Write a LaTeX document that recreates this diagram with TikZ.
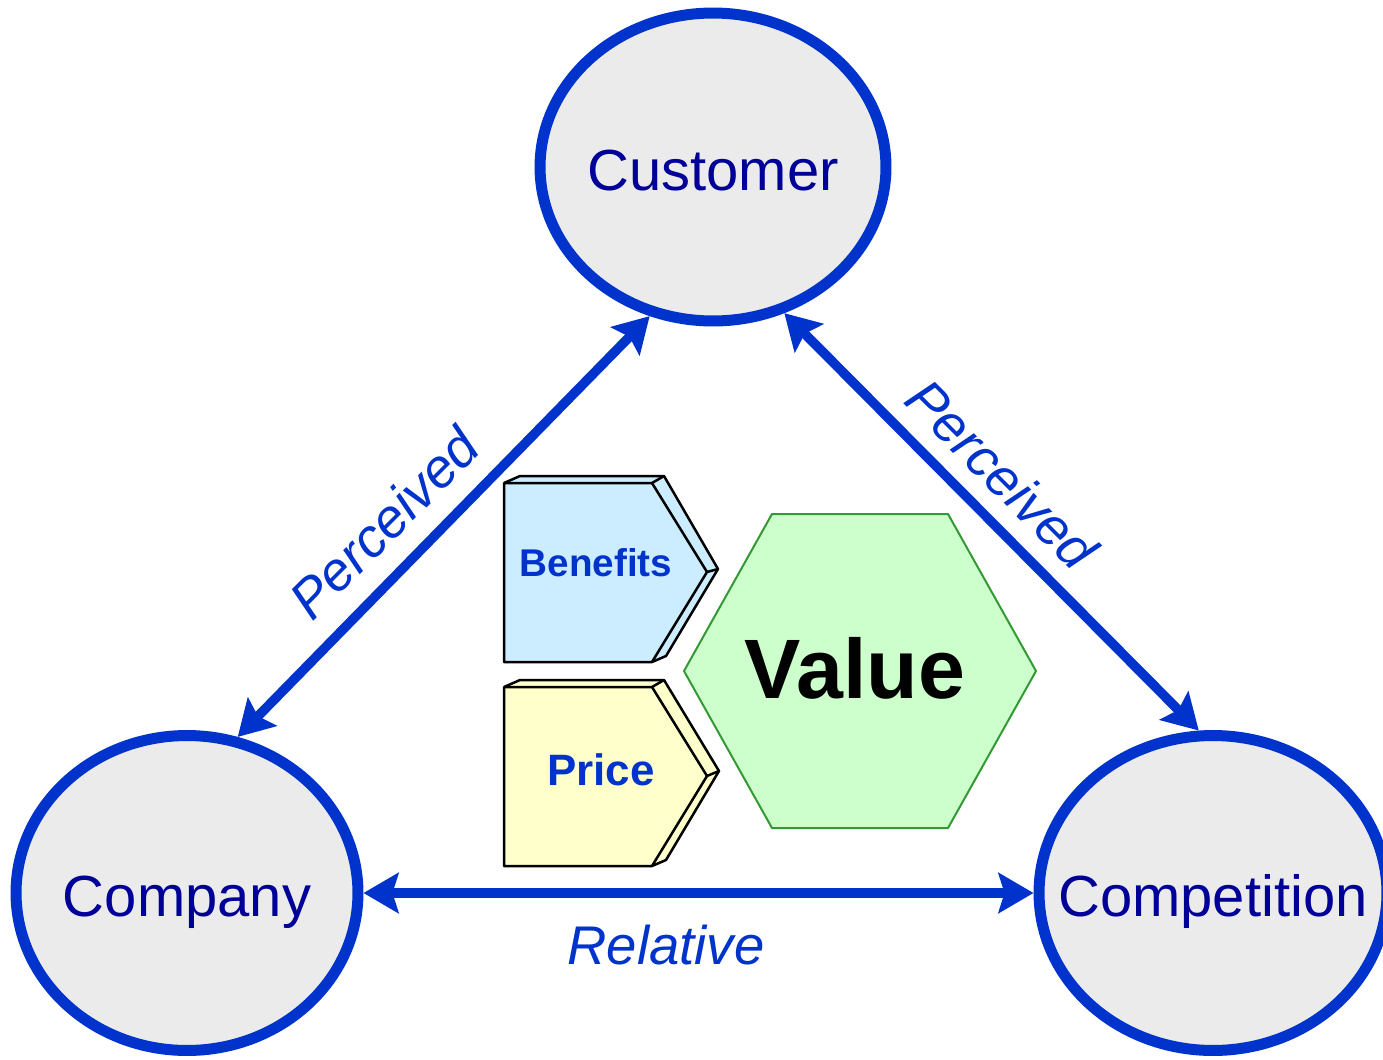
\documentclass[tikz,border=0pt]{standalone}
\usepackage{fontspec}
\setmainfont{Liberation Sans}
\usetikzlibrary{arrows.meta,shapes.geometric}
\definecolor{cblue}{HTML}{0033CC}
\definecolor{navy}{HTML}{000099}
\definecolor{cgray}{HTML}{EBEBEB}
\definecolor{bfill}{HTML}{CCECFF}
\definecolor{pfill}{HTML}{FFFFCC}
\definecolor{vfill}{HTML}{CCFFCC}
\definecolor{vline}{HTML}{339933}
\newcommand{\partytext}[1]{\raisebox{-0.47cm}[0pt][0pt]{\makebox[0pt]{#1}}}
\tikzset{
  party/.style={ellipse, draw=cblue, fill=cgray, line width=0.22cm, inner sep=0pt,
    text=navy, font=\fontsize{33}{36}\selectfont},
  link/.style={draw=cblue, line width=0.19cm,
    {Stealth[length=0.7cm, width=0.8cm, inset=0.12cm]}-{Stealth[length=0.7cm, width=0.8cm, inset=0.12cm]}},
  lbl/.style={text=cblue, font=\fontsize{31}{34}\selectfont\itshape, inner sep=0pt},
  facefill/.style={draw=black, line width=0.05cm, line join=round},
  boxtext/.style={text=cblue, font=\bfseries, inner sep=0pt},
}
\begin{document}
\begin{tikzpicture}[x=0.02cm, y=-0.02cm]
\useasboundingbox (0,0) rectangle (1383,1059);
% parties
\node[party, minimum width=6.92cm, minimum height=6.16cm] (cust) at (713,167) {\partytext{Customer}};
\node[party, minimum width=6.84cm, minimum height=6.3cm] (comp) at (187,893) {\partytext{Company}};
\node[party, minimum width=6.96cm, minimum height=6.3cm] (compet) at (1213,893) {\partytext{Competition}};
% connectors
\draw[link] (comp.72) -- (cust.247);
\draw[link] (cust.296) -- (compet.95);
\draw[link] (comp.east) -- (compet.west);
% labels
\node[lbl, rotate=45] (pl) at (384,523) {Perceived};
\node[lbl, rotate=-45] (pr) at (1002,474) {Perceived};
\node[lbl] (rel) at (666,945) {Relative};
% Benefits box
\fill[bfill] (504,483) -- (520,476) -- (664,476) -- (718,569) -- (666,656) -- (652,662) -- (504,662) -- cycle;
\draw[facefill] (504,483) -- (520,476) -- (664,476) -- (718,569) -- (666,656) -- (652,662);
\draw[facefill] (504,483) -- (652,483) -- (707,572) -- (652,662) -- (504,662) -- cycle;
\draw[facefill] (652,483) -- (664,476) (707,572) -- (718,569);
\node[boxtext, font=\fontsize{22}{24}\selectfont\bfseries] (ben) at (596,563) {Benefits};
% Price box
\fill[pfill] (504,687) -- (520,680) -- (664,680) -- (719,771) -- (666,860) -- (652,866) -- (504,866) -- cycle;
\draw[facefill] (504,687) -- (520,680) -- (664,680) -- (719,771) -- (666,860) -- (652,866);
\draw[facefill] (504,687) -- (652,687) -- (707,776) -- (652,866) -- (504,866) -- cycle;
\draw[facefill] (652,687) -- (664,680) (707,776) -- (719,771);
\node[boxtext, font=\fontsize{25}{28}\selectfont\bfseries] (pri) at (601,770) {Price};
% Value hexagon
\draw[fill=vfill, draw=vline, line width=0.04cm] (684,671) -- (772,514) -- (948,514) -- (1036,671) -- (948,828) -- (772,828) -- cycle;
\node[font=\fontsize{48}{52}\selectfont\bfseries, inner sep=0pt] (val) at (855,668) {Value};
\end{tikzpicture}
\end{document}
